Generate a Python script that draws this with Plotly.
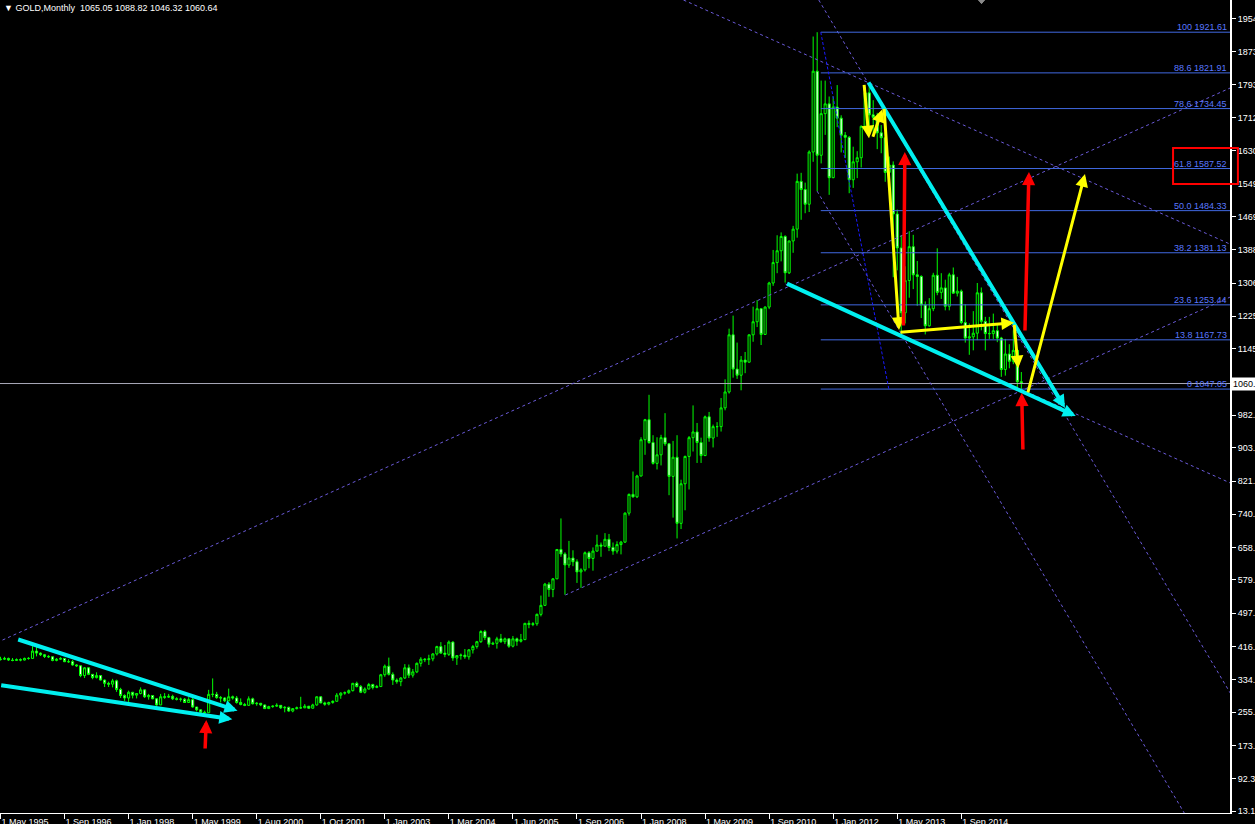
import plotly.graph_objects as go

# ---------------- data: GOLD monthly bars (bar index 0 = May 1995) ----------------
opens = [
    384, 385, 387, 383, 382, 384, 383, 387,
    387, 405, 400, 396, 392, 391, 382, 385, 387, 379, 379, 371,
    369, 345, 364, 348, 340, 345, 334, 326, 324, 332, 311, 296,
    290, 304, 297, 301, 310, 293, 296, 288, 273, 293, 292, 294,
    288, 287, 287, 279, 286, 268, 261, 255, 254, 299, 299, 291,
    290, 283, 293, 290, 279, 274, 272, 288, 276, 277, 273, 264, 269, 270,
    272, 266, 267, 258, 264, 266, 266, 270, 265, 273, 293, 278, 275,
    279, 282, 297, 302, 303, 308, 326, 318, 304, 312, 323, 316, 318,
    347, 368, 348, 334, 330, 339, 364, 346, 354, 375, 385, 384, 386, 398, 416, 400,
    397, 427, 388, 394, 395, 391, 408, 416, 428, 453,
    438, 422, 424, 435, 428, 435, 417, 435, 429, 433, 473, 470, 472, 495,
    517, 569, 556, 582, 654, 643, 616, 633, 624, 599, 604, 646,
    632, 650, 665, 662, 679, 659, 650, 666, 672, 743, 789, 783,
    834, 923, 972, 916, 865, 886, 928, 913, 833, 880, 718, 815,
    882, 928, 942, 916, 884, 979, 927, 955, 955, 1001, 1040, 1180,
    1096, 1081, 1118, 1113, 1180, 1212, 1244, 1181, 1248, 1307, 1357, 1386,
    1421, 1332, 1410, 1439, 1556, 1536, 1500, 1628, 1826, 1620, 1722, 1746,
    1565, 1738, 1711, 1669, 1664, 1560, 1604, 1614, 1691, 1773, 1719, 1713,
    1675, 1663, 1578, 1596, 1476, 1393, 1234, 1313, 1396, 1327, 1323, 1253,
    1202, 1244, 1326, 1284, 1295, 1250, 1327, 1282, 1287, 1210, 1172, 1175,
    1184, 1283, 1213, 1183, 1183, 1190, 1172, 1095, 1133, 1115, 1142, 1065.05,
]
highs = [
    391, 391, 389, 388, 387, 387, 389, 390,
    417, 416, 402, 398, 395, 392, 388, 390, 388, 385, 383, 373,
    370, 366, 366, 348, 353, 346, 335, 330, 337, 335, 315, 299,
    308, 305, 302, 316, 310, 300, 297, 290, 300, 302, 300, 298,
    292, 291, 290, 292, 290, 268, 262, 259, 310, 338, 305, 295,
    292, 313, 296, 295, 289, 278, 294, 291, 280, 278, 274, 271, 272, 277,
    272, 270, 269, 265, 269, 293, 275, 270, 276, 294, 294, 281, 281,
    284, 302, 304, 306, 311, 327, 330, 322, 316, 327, 325, 322, 349,
    372, 389, 353, 338, 341, 373, 372, 361, 377, 390, 388, 396, 400, 418, 427, 420,
    431, 429, 395, 399, 410, 410, 420, 430, 456, 457,
    440, 428, 440, 447, 438, 436, 442, 438, 447, 474, 480, 476, 497, 541,
    572, 574, 584, 655, 730, 647, 675, 652, 630, 608, 649, 650,
    659, 690, 671, 694, 692, 671, 674, 675, 745, 791, 845, 837,
    929, 974, 1033, 934, 929, 935, 988, 915, 920, 934, 825, 884,
    932, 1007, 964, 928, 982, 991, 960, 966, 1025, 1071, 1195, 1227,
    1161, 1128, 1138, 1181, 1249, 1265, 1245, 1250, 1310, 1388, 1424, 1431,
    1424, 1411, 1447, 1575, 1577, 1553, 1632, 1911, 1921.61, 1803, 1803, 1764,
    1764, 1792, 1718, 1677, 1667, 1641, 1630, 1693, 1787, 1796, 1755, 1724,
    1694, 1676, 1617, 1605, 1487, 1424, 1348, 1434, 1425, 1361, 1326, 1262,
    1270, 1332, 1392, 1331, 1315, 1332, 1345, 1322, 1291, 1255, 1208, 1238,
    1307, 1296, 1224, 1224, 1232, 1205, 1175, 1170, 1157, 1191, 1143, 1088.82,
]
lows = [
    382, 383, 381, 380, 381, 380, 382, 384,
    387, 392, 393, 388, 388, 380, 380, 383, 378, 376, 369, 366,
    341, 339, 346, 336, 338, 333, 317, 317, 316, 305, 290, 283,
    278, 289, 289, 299, 290, 286, 287, 271, 273, 288, 290, 285,
    284, 281, 278, 278, 266, 257, 252, 252, 254, 292, 288, 279,
    280, 282, 286, 276, 272, 270, 271, 274, 271, 270, 263, 263, 266, 268,
    263, 255, 256, 255, 262, 263, 265, 263, 264, 271, 277, 271, 272,
    276, 281, 288, 298, 300, 306, 316, 302, 301, 311, 311, 314, 317,
    342, 345, 322, 325, 319, 337, 339, 340, 351, 367, 378, 371, 380, 394, 398, 390,
    393, 381, 371, 384, 386, 384, 399, 411, 425, 432,
    414, 420, 411, 425, 422, 413, 414, 418, 426, 432, 461, 466, 467, 490,
    516, 538, 537, 582, 636, 543, 609, 613, 572, 560, 600, 608,
    602, 649, 636, 662, 650, 641, 644, 642, 670, 737, 781, 780,
    833, 886, 913, 862, 850, 860, 908, 787, 732, 681, 704, 750,
    801, 894, 866, 866, 883, 918, 904, 930, 943, 995, 1036, 1075,
    1072, 1044, 1086, 1112, 1163, 1199, 1155, 1180, 1243, 1300, 1331, 1360,
    1308, 1329, 1381, 1418, 1462, 1478, 1481, 1604, 1532, 1600, 1670, 1523,
    1564, 1689, 1627, 1613, 1527, 1540, 1564, 1590, 1686, 1693, 1672, 1635,
    1625, 1555, 1562, 1321, 1338, 1180, 1208, 1271, 1292, 1251, 1221, 1181,
    1200, 1238, 1277, 1268, 1240, 1240, 1281, 1274, 1206, 1161, 1131, 1142,
    1167, 1191, 1142, 1170, 1170, 1162, 1077, 1080, 1098, 1108, 1052, 1046.32,
]
closes = [
    385, 387, 383, 382, 384, 383, 387, 387,
    405, 400, 396, 392, 391, 382, 385, 387, 379, 379, 371, 369,
    345, 364, 348, 340, 345, 334, 326, 324, 332, 311, 296, 290,
    304, 297, 301, 310, 293, 296, 288, 273, 293, 292, 294, 288,
    287, 287, 279, 286, 268, 261, 255, 254, 299, 299, 291, 290,
    283, 293, 290, 279, 274, 272, 288, 276, 277, 273, 264, 269, 270, 272,
    266, 267, 258, 264, 266, 266, 270, 265, 273, 293, 278, 275, 279,
    282, 297, 302, 303, 308, 326, 318, 304, 312, 323, 316, 318, 347,
    368, 348, 334, 330, 339, 364, 346, 354, 375, 385, 384, 386, 398, 416, 400, 397,
    427, 388, 394, 395, 391, 408, 416, 428, 453, 438,
    422, 424, 435, 428, 435, 417, 435, 429, 433, 473, 470, 472, 495, 517,
    569, 556, 582, 654, 643, 616, 633, 624, 599, 604, 646, 632,
    650, 665, 662, 679, 659, 650, 666, 672, 743, 789, 783, 834,
    923, 972, 916, 865, 886, 928, 913, 833, 880, 718, 815, 882,
    928, 942, 916, 884, 979, 927, 955, 955, 1001, 1040, 1180, 1096,
    1081, 1118, 1113, 1180, 1212, 1244, 1181, 1248, 1307, 1357, 1386, 1421,
    1332, 1410, 1439, 1556, 1536, 1500, 1628, 1826, 1620, 1722, 1746, 1565,
    1738, 1711, 1669, 1664, 1560, 1604, 1614, 1691, 1773, 1719, 1713, 1675,
    1663, 1578, 1596, 1476, 1393, 1234, 1313, 1396, 1327, 1323, 1253, 1202,
    1244, 1326, 1284, 1295, 1250, 1327, 1282, 1287, 1210, 1172, 1175, 1184,
    1283, 1213, 1183, 1183, 1190, 1172, 1095, 1133, 1115, 1142, 1065.05, 1060.64,
]
bars = list(range(len(closes)))

x_tick_bars = [0, 16, 32, 48, 64, 80, 96, 112, 128, 144, 160, 176, 192, 208, 224, 240]
x_tick_labels = ["1 May 1995", "1 Sep 1996", "1 Jan 1998", "1 May 1999", "1 Aug 2000",
                 "1 Oct 2001", "1 Jan 2003", "1 Mar 2004", "1 Jun 2005", "1 Sep 2006",
                 "1 Jan 2008", "1 May 2009", "1 Sep 2010", "1 Jan 2012", "1 May 2013",
                 "1 Sep 2014"]
y_tick_vals = [13.1, 92.3, 173.7, 255.5, 334.7, 416.1, 497.5, 579.5, 658.7, 740.1, 821.5,
               903.5, 982.7, 1145.5, 1225.7, 1306.3, 1388.3, 1469.5, 1549.7, 1630.9,
               1712.3, 1793.5, 1873.7, 1954.1]
y_tick_labels = ["%.2f" % v for v in y_tick_vals]

last_ohlc = [1065.05, 1088.82, 1046.32, 1060.64]
current_price = 1060.64

fib_levels = ["100", "88.6", "78.6", "61.8", "50.0", "38.2", "23.6", "13.8", "0"]
fib_prices = [1921.61, 1821.91, 1734.45, 1587.52, 1484.33, 1381.13, 1253.44, 1167.73, 1047.05]
fib_start_bar = 204.9
fib_anchor_low_bar = 221.9

# dotted trend / channel lines: (bar0, price0, bar1, price1)
dotted_lines = [
    (0.5, 432.0, 307.2, 1785.0),
    (141.1, 542.4, 307.2, 1272.7),
    (170.6, 2000.5, 307.2, 1402.0),
    (204.0, 1532.0, 295.7, 8.2),
    (204.4, 2000.5, 307.2, 302.0),
    (196.1, 1304.6, 307.2, 816.9),
]
# arrows drawn on chart: (tail bar, tail price, tip bar, tip price)
cyan_arrows = [
    (216.6, 1802.0, 265.9, 1000.7),
    (196.1, 1307.0, 268.6, 981.1),
    (4.05, 434.6, 59.2, 258.9),
    (-0.2, 321.9, 57.9, 237.8),
]
yellow_arrows = [
    (215.7, 1796.4, 216.95, 1661.6),
    (217.8, 1661.6, 220.3, 1732.7),
    (220.7, 1737.2, 224.45, 1191.8),
    (224.45, 1186.2, 253.2, 1209.7),
    (253.2, 1207.8, 254.2, 1098.0),
    (256.55, 1035.0, 270.9, 1574.1),
]
red_arrows = [
    (225.55, 1199.2, 225.9, 1628.0),
    (255.9, 1186.9, 256.9, 1579.0),
    (255.4, 895.3, 255.1, 1037.5),
    (51.1, 162.6, 51.4, 236.1),
]
highlight_bars = [292.9, 309.1]
highlight_prices = [1549.6, 1637.9]

# ---------------- figure ----------------
XR = [-0.125, 307.125]
YR = [8.2, 2000.5]
FONT = "Liberation Sans, Arial, sans-serif"


def px_(b):
    return (b - XR[0]) / (XR[1] - XR[0])


def py_(p):
    return (p - YR[0]) / (YR[1] - YR[0])


fig = go.Figure()
fig.add_trace(go.Candlestick(
    x=bars, open=opens, high=highs, low=lows, close=closes,
    increasing=dict(line=dict(color="#00ff00", width=1), fillcolor="#000000"),
    decreasing=dict(line=dict(color="#00ff00", width=1), fillcolor="#ffffff"),
    whiskerwidth=0, showlegend=False, hoverinfo="skip",
))

# current price line
fig.add_trace(go.Scatter(x=[XR[0], XR[1]], y=[current_price, current_price], mode="lines",
                         line=dict(color="#a8a8b8", width=1), hoverinfo="skip", showlegend=False))

# dotted channel lines
for b0, p0, b1, p1 in dotted_lines:
    fig.add_trace(go.Scatter(x=[b0, b1], y=[p0, p1], mode="lines",
                             line=dict(color="#6a5ad8", width=1, dash="3px,3px"),
                             hoverinfo="skip", showlegend=False))

# fibonacci levels
for lvl, pr in zip(fib_levels, fib_prices):
    fig.add_trace(go.Scatter(x=[fib_start_bar, XR[1]], y=[pr, pr], mode="lines",
                             line=dict(color="#4169e1", width=1), hoverinfo="skip",
                             showlegend=False))
fig.add_trace(go.Scatter(x=[fib_start_bar, fib_anchor_low_bar], y=[fib_prices[0], fib_prices[-1]],
                         mode="lines", line=dict(color="#1a1aff", width=1, dash="3px,2px"),
                         hoverinfo="skip", showlegend=False))

annotations = []
for lvl, pr in zip(fib_levels, fib_prices):
    annotations.append(dict(
        x=1, xref="paper", xanchor="right", xshift=-2,
        y=pr, yref="y", yanchor="bottom", yshift=-1,
        text="%s %.2f" % (lvl, pr), showarrow=False,
        font=dict(family=FONT, size=9, color="#5a78ff"), borderpad=0,
    ))


def add_arrows(lst, color, width, size):
    for b0, p0, b1, p1 in lst:
        annotations.append(dict(
            x=b1, y=p1, ax=b0, ay=p0, xref="x", yref="y", axref="x", ayref="y",
            text="", showarrow=True, arrowhead=2, arrowsize=size,
            arrowwidth=width, arrowcolor=color, standoff=0,
        ))


add_arrows(cyan_arrows, "#00f0f0", 4, 0.65)
add_arrows(yellow_arrows, "#ffff00", 3, 0.85)
add_arrows(red_arrows, "#ff0000", 3.5, 0.75)

# title
annotations.append(dict(
    x=0, y=1, xref="paper", yref="paper", xanchor="left", yanchor="top", xshift=3, yshift=-2,
    text="\u25bc GOLD,Monthly\u00a0\u00a0" + " ".join("%.2f" % v for v in last_ohlc),
    showarrow=False, font=dict(family=FONT, size=9, color="#ffffff"), borderpad=0,
))
# current price tag
annotations.append(dict(
    x=1, xref="paper", xanchor="left", xshift=1, y=current_price, yref="y", yanchor="middle",
    text="%.2f" % current_price, showarrow=False, bgcolor="#ffffff",
    font=dict(family=FONT, size=9, color="#000000"), borderpad=1,
))

shapes = [
    dict(type="rect", xref="paper", yref="paper",
         x0=px_(highlight_bars[0]), x1=px_(highlight_bars[1]),
         y0=py_(highlight_prices[0]), y1=py_(highlight_prices[1]),
         line=dict(color="#ff0000", width=2), fillcolor="rgba(0,0,0,0)"),
    dict(type="path", xref="paper", yref="paper",
         path="M 0.7955,1.0 L 0.8005,1.0 L 0.798,0.9955 Z",
         fillcolor="#8a8a8a", line=dict(color="#8a8a8a", width=1)),
]

fig.update_layout(
    width=1255, height=824, template="none",
    paper_bgcolor="#000000", plot_bgcolor="#000000",
    margin=dict(l=0, r=25, t=0, b=11),
    showlegend=False, boxgap=0.25,
    annotations=annotations, shapes=shapes,
    xaxis=dict(range=XR, rangeslider=dict(visible=False), showgrid=False, zeroline=False,
               showline=True, linecolor="#ffffff", linewidth=1, ticks="outside", ticklen=5,
               tickcolor="#ffffff", tickvals=x_tick_bars, ticktext=x_tick_labels,
               ticklabelposition="outside right", automargin=False,
               tickfont=dict(family=FONT, size=9, color="#ffffff")),
    yaxis=dict(range=YR, side="right", showgrid=False, zeroline=False, showline=True,
               linecolor="#ffffff", linewidth=2, ticks="outside", ticklen=4,
               tickcolor="#ffffff", tickvals=y_tick_vals, ticktext=y_tick_labels,
               automargin=False, tickfont=dict(family=FONT, size=9, color="#ffffff")),
)

fig.write_html(
    "out.html",
    config={"displayModeBar": False, "staticPlot": True},
    post_script="document.body.style.margin='0';document.body.style.overflow='hidden';"
                "document.body.style.background='#000';",
)
